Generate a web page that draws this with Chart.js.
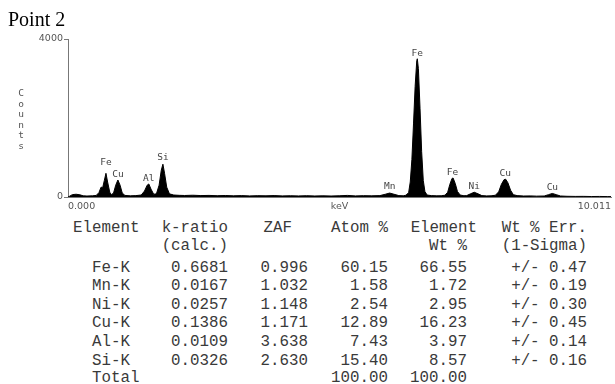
<!DOCTYPE html>
<html>
<head>
<meta charset="utf-8">
<script src="https://cdn.jsdelivr.net/npm/chart.js@4/dist/chart.umd.min.js"></script>
<style>
  html, body { margin: 0; padding: 0; background: #fff; }
  #page { position: relative; width: 615px; height: 384px; overflow: hidden; }
  #plot { position: absolute; left: 0; top: 0; width: 615px; height: 215px; }
  .title { position: absolute; left: 8px; top: 9px; font: 20px "Liberation Serif", serif; line-height: 20px; color: #000; }
  .counts { position: absolute; left: 17px; top: 88px; font: 9.5px "DejaVu Sans Mono", monospace; line-height: 10.5px; color: #555; text-align: center; width: 8px; }
  .t { position: absolute; font: 15.8px "Liberation Mono", monospace; line-height: 18px; color: #3a3a3a; white-space: pre; }
</style>
</head>
<body>
<div id="page">
  <canvas id="plot" width="615" height="215"></canvas>
  <div class="title">Point 2</div>
  <div class="counts">C<br>o<br>u<br>n<br>t<br>s</div>
  <div id="table"></div>
</div>
<script>
// spectrum (keV / counts)
const energy = [
  0.00, 0.03, 0.08, 0.15, 0.22, 0.28, 0.35, 0.45, 0.52, 0.57, 0.61, 0.64, 0.67, 0.70, 0.73, 0.77, 0.80,
  0.84, 0.88, 0.92, 0.96, 1.00, 1.05, 1.15, 1.25, 1.35, 1.41, 1.46, 1.49, 1.53, 1.58, 1.63, 1.68, 1.72,
  1.75, 1.78, 1.82, 1.87, 1.95, 2.05, 2.15, 2.30, 2.45, 2.60, 2.75, 2.90, 3.05, 3.20, 3.35, 3.50, 3.65,
  3.80, 3.95, 4.10, 4.25, 4.40, 4.55, 4.70, 4.85, 5.00, 5.15, 5.30, 5.45, 5.60, 5.75, 5.85, 5.93, 6.01,
  6.10, 6.18, 6.23, 6.28, 6.31, 6.34, 6.37, 6.40, 6.43, 6.44, 6.46, 6.49, 6.52, 6.55, 6.58, 6.62, 6.70,
  6.80, 6.88, 6.95, 7.00, 7.04, 7.08, 7.10, 7.14, 7.18, 7.23, 7.30, 7.35, 7.42, 7.49, 7.56, 7.63, 7.72,
  7.80, 7.88, 7.94, 7.99, 8.04, 8.07, 8.11, 8.16, 8.21, 8.28, 8.40, 8.52, 8.64, 8.78, 8.86, 8.93, 9.00,
  9.08, 9.20, 9.35, 9.50, 9.65, 9.80, 9.95, 10.011
];
const counts = [
  0, 20, 60, 70, 55, 30, 25, 30, 40, 110, 250, 240, 420, 600, 380, 120, 60,
  100, 300, 430, 300, 100, 40, 30, 35, 50, 150, 300, 330, 200, 70, 80, 300, 680,
  830, 600, 250, 80, 50, 42, 38, 45, 36, 40, 33, 38, 30, 35, 28, 34, 30,
  36, 28, 32, 27, 33, 26, 30, 25, 31, 40, 28, 34, 30, 35, 70, 100, 70,
  35, 30, 45, 110, 380, 950, 1850, 2800, 3450, 3500, 3250, 2250, 1150, 420, 140, 50, 35,
  30, 32, 45, 120, 320, 470, 480, 340, 140, 50, 32, 35, 80, 120, 80, 35, 28,
  30, 45, 130, 320, 440, 450, 360, 170, 60, 35, 25, 28, 22, 25, 60, 90, 60,
  25, 18, 15, 16, 12, 14, 10, 10
];

// peak labels: name, energy, height of the label centre (counts)
const peakNames = ['Fe', 'Cu', 'Al', 'Si', 'Mn', 'Fe', 'Fe', 'Ni', 'Cu', 'Cu'];
const peakKeV = [0.70, 0.92, 1.49, 1.75, 5.93, 6.44, 7.09, 7.49, 8.06, 8.93];
const peakLabelY = [860, 557, 455, 987, 253, 3640, 607, 253, 582, 228];

const xTickValues = [0, 5.0055, 10.011];
const xTickLabels = ['0.000', 'keV', '10.011'];
const yTickValues = [0, 4000];

// quantification table
const elements = ['Fe-K', 'Mn-K', 'Ni-K', 'Cu-K', 'Al-K', 'Si-K'];
const kRatio = ['0.6681', '0.0167', '0.0257', '0.1386', '0.0109', '0.0326'];
const zaf = ['0.996', '1.032', '1.148', '1.171', '3.638', '2.630'];
const atomPct = ['60.15', '1.58', '2.54', '12.89', '7.43', '15.40'];
const wtPct = ['66.55', '1.72', '2.95', '16.23', '3.97', '8.57'];
const wtErr = ['+/- 0.47', '+/- 0.19', '+/- 0.30', '+/- 0.45', '+/- 0.14', '+/- 0.16'];
const totals = ['Total', '100.00', '100.00'];

const peakLabels = {
  id: 'peakLabels',
  afterDatasetsDraw(chart) {
    const { ctx, scales: { x, y } } = chart;
    ctx.save();
    ctx.font = '9.5px "DejaVu Sans Mono", monospace';
    ctx.fillStyle = '#444';
    ctx.textAlign = 'center';
    ctx.textBaseline = 'middle';
    peakNames.forEach((n, i) => {
      ctx.fillText(n, x.getPixelForValue(peakKeV[i]), y.getPixelForValue(peakLabelY[i]));
    });
    ctx.restore();
  }
};

new Chart(document.getElementById('plot'), {
  type: 'line',
  data: {
    datasets: [{
      data: energy.map((e, i) => ({ x: e, y: counts[i] })),
      borderColor: '#000',
      backgroundColor: '#000',
      borderWidth: 1,
      pointRadius: 0,
      fill: 'origin',
      tension: 0
    }]
  },
  options: {
    responsive: false,
    animation: false,
    events: [],
    layout: { padding: { top: 39, right: 3, left: 0, bottom: 0 } },
    plugins: { legend: { display: false }, tooltip: { enabled: false } },
    scales: {
      x: {
        type: 'linear',
        min: 0,
        max: 10.011,
        afterBuildTicks: s => { s.ticks = xTickValues.map(v => ({ value: v })); },
        afterFit: s => { s.height = 18; },
        grid: { display: false, drawTicks: false },
        border: { display: true, color: '#777', width: 1 },
        ticks: {
          autoSkip: false,
          maxRotation: 0,
          align: 'inner',
          padding: 4,
          color: '#555',
          font: { family: 'DejaVu Sans', size: 9.5 },
          callback: (v, i) => xTickLabels[i]
        }
      },
      y: {
        min: 0,
        max: 4000,
        afterBuildTicks: s => { s.ticks = yTickValues.map(v => ({ value: v })); },
        afterFit: s => { s.width = 68; },
        grid: { drawOnChartArea: false, drawTicks: true, tickLength: 4, color: '#777' },
        border: { display: true, color: '#777', width: 1 },
        ticks: {
          padding: 1,
          color: '#555',
          font: { family: 'DejaVu Sans', size: 9.5 },
          callback: v => String(v)
        }
      }
    }
  },
  plugins: [peakLabels]
});

// table as text
const table = document.getElementById('table');
function put(text, top, left, right) {
  const d = document.createElement('div');
  d.className = 't';
  d.textContent = text;
  d.style.top = (top - 8) + 'px';
  if (right !== undefined) { d.style.right = (615 - right) + 'px'; }
  else { d.style.left = left + 'px'; }
  table.appendChild(d);
}
put('Element', 227, 73);
put('k-ratio', 227, null, 228);
put('ZAF', 227, null, 292);
put('Atom %', 227, null, 388);
put('Element', 227, null, 477);
put('Wt % Err.', 227, null, 587);
put('(calc.)', 245, null, 228);
put('Wt %', 245, null, 467);
put('(1-Sigma)', 245, null, 587);
const rowY = [267, 285, 304, 322, 341, 360];
elements.forEach((el, i) => {
  const yy = rowY[i];
  put(el, yy, 92);
  put(kRatio[i], yy, null, 228);
  put(zaf[i], yy, null, 308);
  put(atomPct[i], yy, null, 388);
  put(wtPct[i], yy, null, 467);
  put(wtErr[i], yy, null, 587);
});
put(totals[0], 377, 92);
put(totals[1], 377, null, 388);
put(totals[2], 377, null, 467);
</script>
</body>
</html>
